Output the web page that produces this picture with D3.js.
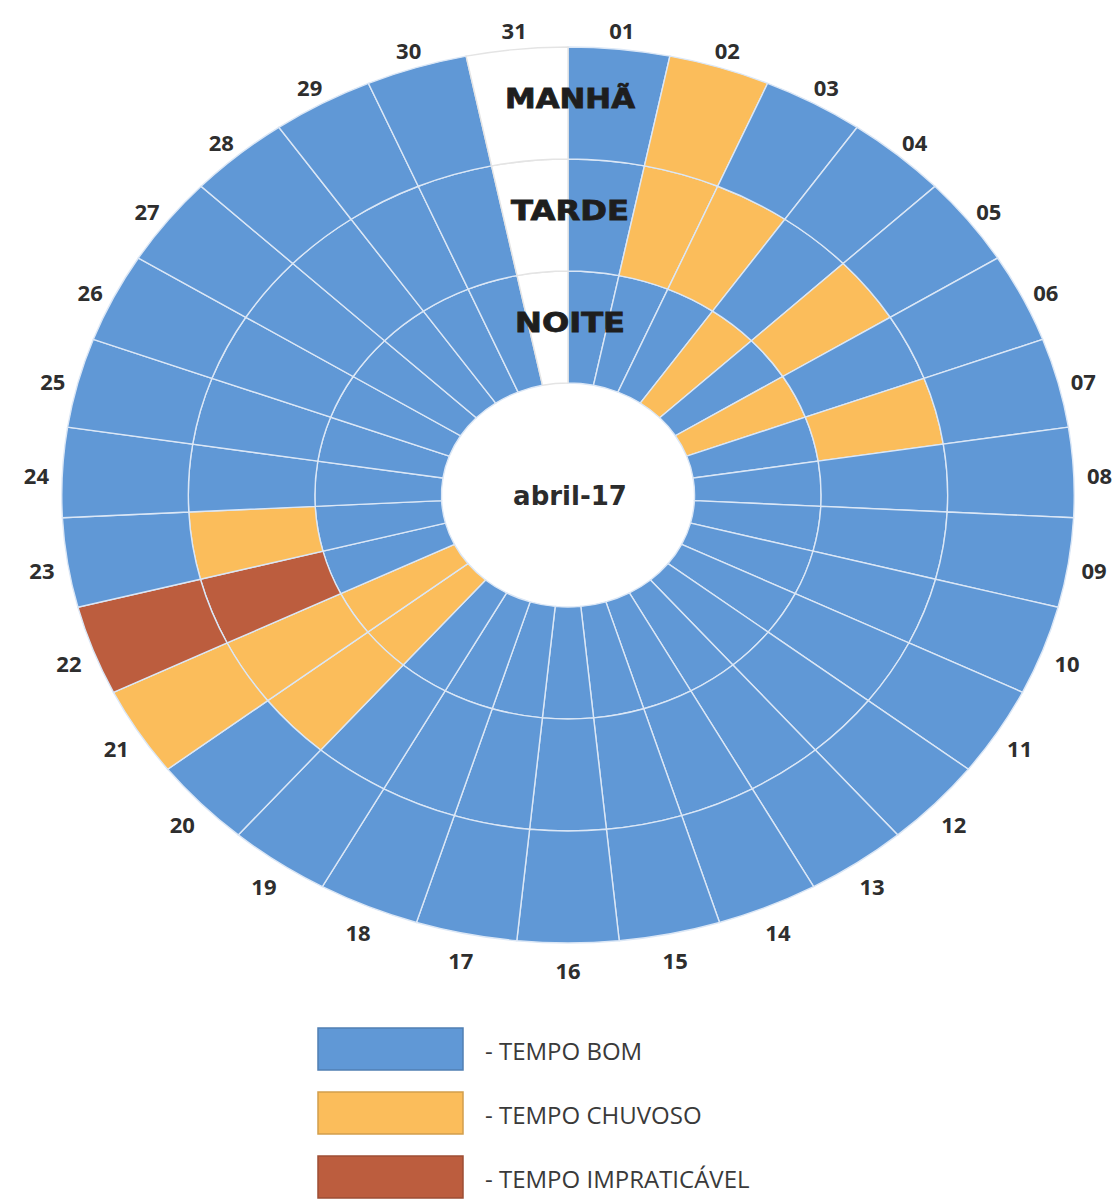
<!DOCTYPE html>
<html>
<head>
<meta charset="utf-8">
<script src="https://d3js.org/d3.v7.min.js"></script>
<style>
  body { margin: 0; background: #fff; }
  svg { display: block; }
</style>
</head>
<body>
<svg id="chart" width="1117" height="1199"></svg>
<script>
// days of the month (31 slots, April only has 30)
var days = ["01","02","03","04","05","06","07","08","09","10","11","12","13","14","15","16",
            "17","18","19","20","21","22","23","24","25","26","27","28","29","30","31"];

// B = tempo bom, C = tempo chuvoso, I = tempo impraticável, null = no day
var manha = ["B","C","B","B","B","B","B","B","B","B","B","B","B","B","B","B",
             "B","B","B","B","C","I","B","B","B","B","B","B","B","B",null];
var tarde = ["B","C","C","B","C","B","C","B","B","B","B","B","B","B","B","B",
             "B","B","B","C","C","I","C","B","B","B","B","B","B","B",null];
var noite = ["B","B","B","C","B","C","B","B","B","B","B","B","B","B","B","B",
             "B","B","B","C","C","B","B","B","B","B","B","B","B","B",null];

var rings = ["NOITE", "TARDE", "MANHÃ"];
var ringData = { "NOITE": noite, "TARDE": tarde, "MANHÃ": manha };

var legendKeys = ["B", "C", "I"];
var legendLabels = ["- TEMPO BOM", "- TEMPO CHUVOSO", "- TEMPO IMPRATICÁVEL"];

var colour = d3.scaleOrdinal()
  .domain(legendKeys)
  .range(["#6098d6", "#fbbd5b", "#bc5d3e"]);

var svg = d3.select("#chart");

var cx = 568, cy = 495,
    sx = 1.13,          // the picture is wider than tall
    rInner = 112, rOuter = 448;

var angle = d3.scaleBand()
  .domain(days)
  .range([0, 2 * Math.PI]);

var radius = d3.scaleBand()
  .domain(rings)
  .range([rInner, rOuter]);

var arc = d3.arc()
  .startAngle(d => angle(d.day))
  .endAngle(d => angle(d.day) + angle.bandwidth())
  .innerRadius(d => radius(d.ring))
  .outerRadius(d => radius(d.ring) + radius.bandwidth());

var cells = [];
rings.forEach(function(ring) {
  days.forEach(function(day, i) {
    cells.push({ day: day, ring: ring, value: ringData[ring][i] });
  });
});

var g = svg.append("g")
  .attr("transform", "translate(" + cx + "," + cy + ") scale(" + sx + ",1)");

g.selectAll("path.cell")
  .data(cells)
  .enter()
  .append("path")
  .attr("class", "cell")
  .attr("d", arc)
  .attr("fill", d => d.value ? colour(d.value) : "#ffffff")
  .attr("stroke", d => d.value ? "#dbe7f6" : "#e4e4e4")
  .attr("stroke-width", 1.4)
  .attr("vector-effect", "non-scaling-stroke");

// ring names in the empty slot
svg.append("g")
  .selectAll("text")
  .data(rings)
  .enter()
  .append("text")
  .attr("x", 570)
  .attr("y", d => cy - (radius(d) + radius.bandwidth() / 2) - 4)
  .attr("text-anchor", "middle")
  .attr("dominant-baseline", "central")
  .attr("font-family", "DejaVu Sans, sans-serif")
  .attr("font-weight", "bold")
  .attr("font-size", 26)
  .attr("fill", "#1e1e1e")
  .attr("stroke", "#1e1e1e")
  .attr("stroke-width", 0.8)
  .attr("textLength", d => d == "MANHÃ" ? 130 : d == "TARDE" ? 118 : 110)
  .attr("lengthAdjust", "spacingAndGlyphs")
  .text(d => d);

// center label
svg.append("text")
  .attr("x", cx + 2)
  .attr("y", cy + 1)
  .attr("text-anchor", "middle")
  .attr("dominant-baseline", "central")
  .attr("font-family", "DejaVu Sans, sans-serif")
  .attr("font-weight", "bold")
  .attr("font-size", 26)
  .attr("fill", "#2c2c2c")
  .text("abril-17");

// day labels around the outside
var rLabel = 471;
svg.append("g")
  .selectAll("text")
  .data(days)
  .enter()
  .append("text")
  .attr("x", d => cx + sx * rLabel * Math.sin(angle(d) + angle.bandwidth() / 2))
  .attr("y", d => cy + 4 - rLabel * Math.cos(angle(d) + angle.bandwidth() / 2))
  .attr("text-anchor", "middle")
  .attr("dominant-baseline", "central")
  .attr("font-family", "Open Sans, sans-serif")
  .attr("font-weight", "bold")
  .attr("font-size", 22)
  .attr("fill", "#2e2e2e")
  .text(d => d);

// legend
var legend = svg.append("g")
  .selectAll("g")
  .data(legendKeys)
  .enter()
  .append("g")
  .attr("transform", (d, i) => "translate(318," + (1028 + i * 64) + ")");

legend.append("rect")
  .attr("width", 145)
  .attr("height", 42)
  .attr("fill", d => colour(d))
  .attr("stroke", d => d3.color(colour(d)).darker(0.5))
  .attr("stroke-width", 1.5);

legend.append("text")
  .attr("x", 167)
  .attr("y", 22)
  .attr("dominant-baseline", "central")
  .attr("font-family", "Open Sans, sans-serif")
  .attr("font-size", 24)
  .attr("fill", "#3a3a3a")
  .text((d, i) => legendLabels[i]);
</script>
</body>
</html>
